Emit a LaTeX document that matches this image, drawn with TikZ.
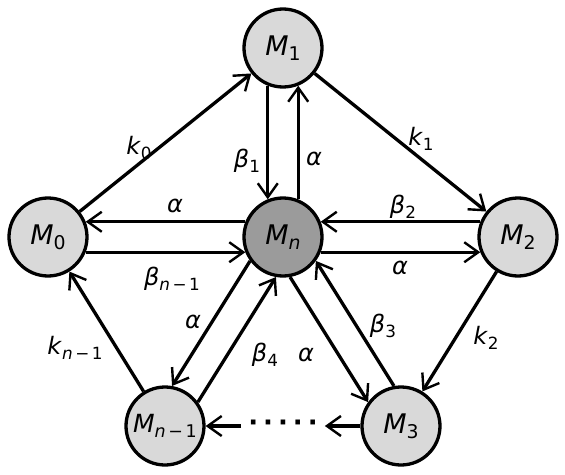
\documentclass[tikz,border=0pt]{standalone}
\usepackage{fontspec}
\setmainfont{DejaVu Sans}
\usepackage{graphicx}
\usetikzlibrary{arrows.meta}

\definecolor{lightgrey}{RGB}{217,217,217}
\definecolor{darkgrey}{RGB}{155,155,155}

% italic symbol with a small lowered index
\newcommand{\sym}[2]{\textit{#1}\raisebox{-0.2em}{\scalebox{0.7}{#2}}}
\newcommand{\nmin}{\textit{n}\hspace{0.15em}−\hspace{0.15em}1}

\begin{document}
\begin{tikzpicture}[x=1pt, y=1pt, >={Straight Barb[length=14pt,width=20pt,line width=2.4pt]}]
    \tikzstyle{state} = [circle, draw, line width=3.3pt, minimum size=78pt, inner sep=0pt, fill=lightgrey, font=\fontsize{27}{32}\selectfont]
    \tikzstyle{lbl} = [inner sep=0pt, font=\fontsize{24}{28}\selectfont]
    \tikzstyle{link} = [->, line width=3.3pt]

    \useasboundingbox (-283, -237) rectangle (282, 237);

    \node [state] (mn) at (0, 0) [fill=darkgrey] {\sym{M}{\textit{n}}};
    \node [state] (m1) at (0, 189) {\sym{M}{1}};
    \node [state] (m0) at (-235, 0) {\sym{M}{0}};
    \node [state] (m2) at (235, 0) {\sym{M}{2}};
    \node [state] (mp) at (-118, -189) [font=\fontsize{25}{30}\selectfont] {\sym{M}{\nmin}};
    \node [state] (m3) at (118, -189) {\sym{M}{3}};

    \node (dots) at (0, -189) [inner xsep=7pt, font=\fontsize{26}{30}\selectfont\bfseries] {·\hspace{5pt}·\hspace{5pt}·\hspace{5pt}·\hspace{5pt}·};

    % outer ring
    \draw [link] (m0) -- (m1);
    \draw [link] (m1) -- (m2);
    \draw [link] (m2) -- (m3);
    \draw [link] (m3) -- (dots);
    \draw [link] (dots) -- (mp);
    \draw [link] (mp) -- (m0);

    % pairs through the centre
    \draw [link] (m1.248) -- (mn.112);
    \draw [link] (mn.68) -- (m1.292);
    \draw [link] (mn.158) -- (m0.22);
    \draw [link] (m0.338) -- (mn.202);
    \draw [link] (m2.158) -- (mn.22);
    \draw [link] (mn.338) -- (m2.202);
    \draw [link] (mn.216) -- (mp.80);
    \draw [link] (mp.36) -- (mn.260);
    \draw [link] (mn.280) -- (m3.144);
    \draw [link] (m3.100) -- (mn.324);

    \node [lbl] (l0) at (-144, 89) {\sym{k}{0}};
    \node [lbl] (l1) at (138, 98) {\sym{k}{1}};
    \node [lbl] (l2) at (203, -101) {\sym{k}{2}};
    \node [lbl] (lp) at (-208, -111) {\sym{k}{\nmin}};
    \node [lbl] (b1) at (-36, 76) {\sym{β}{1}};
    \node [lbl] (a1) at (31, 78) {\textit{α}};
    \node [lbl] (a0) at (-108, 31) {\textit{α}};
    \node [lbl] (bp) at (-111, -42) {\sym{β}{\nmin}};
    \node [lbl] (b2) at (120, 30) {\sym{β}{2}};
    \node [lbl] (a2) at (117, -31) {\textit{α}};
    \node [lbl] (ap) at (-90, -85) {\textit{α}};
    \node [lbl] (b4) at (-18, -118) {\sym{β}{4}};
    \node [lbl] (a3) at (23, -118) {\textit{α}};
    \node [lbl] (b3) at (100, -89) {\sym{β}{3}};
\end{tikzpicture}
\end{document}
